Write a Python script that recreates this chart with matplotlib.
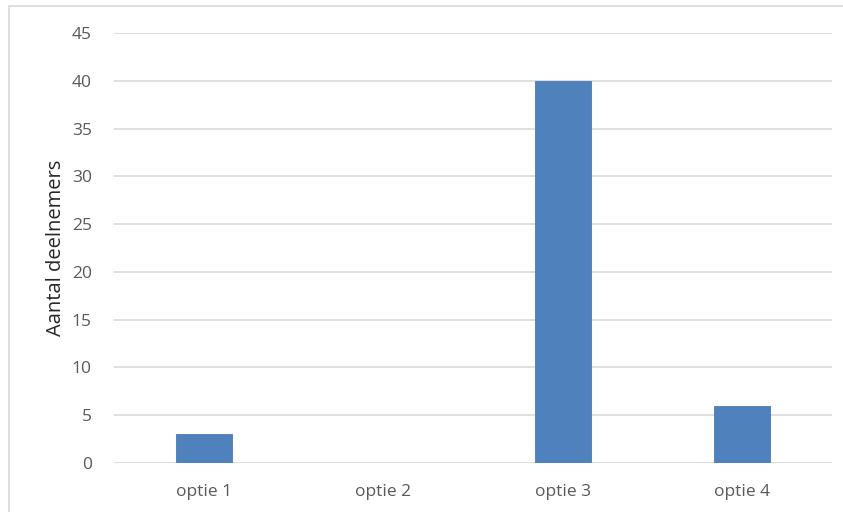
import matplotlib
matplotlib.use("Agg")
import matplotlib.pyplot as plt
from matplotlib.patches import Rectangle

categories = ["optie 1", "optie 2", "optie 3", "optie 4"]
values = [3, 0, 40, 6]
yticks = [0, 5, 10, 15, 20, 25, 30, 35, 40, 45]

plt.rcParams['font.family'] = ['Open Sans', 'DejaVu Sans']

W, H = 843, 512
fig = plt.figure(figsize=(W/100, H/100), dpi=100)
fig.patch.set_facecolor('white')
fig.patches.append(Rectangle((9/W, -0.02), (W+5-9)/W, 1 - 6/H + 0.02,
                             transform=fig.transFigure, fill=False,
                             edgecolor='#d9d9d9', linewidth=1.2))

ax = fig.add_axes([114/W, 1 - 463/H, (832-114)/W, (463-33)/H])
x = range(len(categories))
ax.bar(x, values, width=0.31, color='#4f81bd', edgecolor='#4a7ab5', linewidth=0.6, zorder=3)
ax.set_xlim(-0.5, len(categories) - 0.5)
ax.set_ylim(0, 45)
ax.set_yticks(yticks)
ax.set_xticks(list(x))
ax.set_xticklabels(categories)
ax.yaxis.grid(True, color='#d9d9d9', linewidth=1.2, zorder=0)
for s in ax.spines.values():
    s.set_visible(False)
ax.tick_params(axis='both', length=0, labelsize=12.5, colors='#595959')
ax.tick_params(axis='y', pad=16)
ax.tick_params(axis='x', pad=15)
ax.set_ylabel("Aantal deelnemers", fontsize=14.5, color='#262626', labelpad=4)

fig.savefig("out.png", dpi=100)
